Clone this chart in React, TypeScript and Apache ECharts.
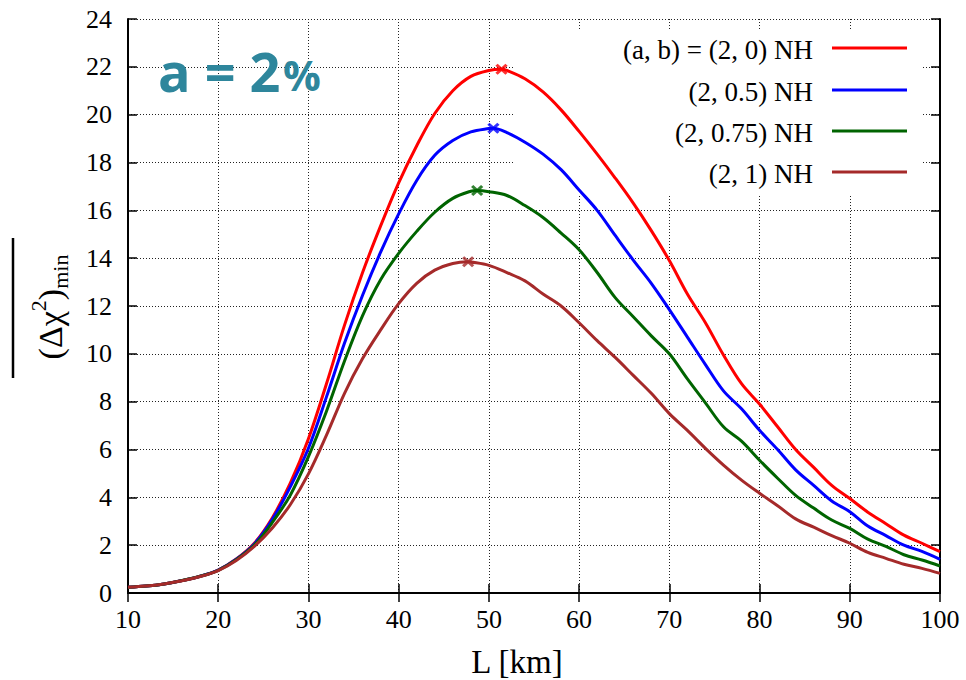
import React, { useEffect, useRef } from "react";
import * as echarts from "echarts";

// Baseline distance L [km]
const L_KM = [10, 12, 14, 16, 18, 20, 22, 24, 26, 28, 30, 32, 34, 36, 38, 40, 42, 44, 46, 48, 50, 52, 54, 56, 58, 60, 62, 64, 66, 68, 70, 72, 74, 76, 78, 80, 82, 84, 86, 88, 90, 92, 94, 96, 98, 100];

const RED_2_0 = [0.24, 0.29, 0.38, 0.52, 0.7, 0.96, 1.42, 2.08, 3.15, 4.6, 6.45, 8.75, 11.2, 13.4, 15.35, 17.15, 18.7, 20.05, 21.0, 21.6, 21.85, 21.85, 21.5, 20.95, 20.2, 19.3, 18.35, 17.35, 16.3, 15.15, 13.9, 12.5, 11.3, 9.95, 8.75, 7.9, 6.95, 6.0, 5.25, 4.5, 3.95, 3.38, 2.9, 2.42, 2.08, 1.73];
const BLUE_2_05 = [0.24, 0.29, 0.38, 0.52, 0.7, 0.96, 1.41, 2.05, 3.08, 4.45, 6.05, 8.2, 10.45, 12.45, 14.25, 15.85, 17.25, 18.3, 18.92, 19.28, 19.42, 19.25, 18.85, 18.35, 17.7, 16.85, 16.0, 14.95, 13.92, 12.95, 11.85, 10.7, 9.55, 8.45, 7.7, 6.8, 6.0, 5.15, 4.5, 3.85, 3.4, 2.8, 2.4, 2.0, 1.74, 1.41];
const GREEN_2_075 = [0.24, 0.29, 0.38, 0.52, 0.7, 0.95, 1.39, 2.0, 2.95, 4.1, 5.7, 7.6, 9.7, 11.6, 13.1, 14.2, 15.12, 15.92, 16.5, 16.8, 16.78, 16.62, 16.2, 15.7, 15.05, 14.35, 13.4, 12.35, 11.55, 10.75, 10.0, 8.95, 7.95, 6.95, 6.35, 5.55, 4.8, 4.08, 3.55, 3.05, 2.7, 2.25, 1.95, 1.6, 1.38, 1.13];
const BROWN_2_1 = [0.24, 0.29, 0.38, 0.51, 0.69, 0.94, 1.36, 1.95, 2.72, 3.7, 4.98, 6.6, 8.35, 9.8, 11.0, 12.1, 12.95, 13.5, 13.78, 13.84, 13.7, 13.4, 13.05, 12.5, 12.0, 11.3, 10.55, 9.85, 9.1, 8.35, 7.5, 6.8, 6.05, 5.35, 4.72, 4.17, 3.65, 3.1, 2.75, 2.4, 2.08, 1.7, 1.45, 1.2, 1.03, 0.82];

// Maxima marked with crosses: [L, value]
const PEAK_RED = [51.4, 21.9];
const PEAK_BLUE = [50.5, 19.43];
const PEAK_GREEN = [48.7, 16.83];
const PEAK_BROWN = [47.7, 13.85];

const LEGEND_LABELS = ["(a, b) = (2, 0) NH", "(2, 0.5) NH", "(2, 0.75) NH", "(2, 1) NH"];
const COLORS = ["#ff0000", "#0000ff", "#006400", "#a52a2a"];

const X_MIN = 10, X_MAX = 100, X_STEP = 10;
const Y_MIN = 0, Y_MAX = 24, Y_STEP = 2;

const SERIF = "'Liberation Serif', 'Times New Roman', serif";

function withPeak(values: number[], peak: number[]) {
  const pts = L_KM.map((x, i) => [x, values[i]]);
  pts.push([peak[0], peak[1]]);
  pts.sort((a, b) => a[0] - b[0]);
  return pts;
}

const CROSS = "path://M0,0L10,10M0,10L10,0";

export default function App() {
  const ref = useRef<HTMLDivElement>(null);
  useEffect(() => {
    const chart = echarts.init(ref.current as HTMLDivElement, null, { renderer: "svg" });
    const seriesVals = [RED_2_0, BLUE_2_05, GREEN_2_075, BROWN_2_1];
    const peaks = [PEAK_RED, PEAK_BLUE, PEAK_GREEN, PEAK_BROWN];

    const lineSeries: any[] = seriesVals.map((vals, i) => ({
      type: "line",
      name: LEGEND_LABELS[i],
      data: withPeak(vals, peaks[i]),
      smooth: 0.35,
      showSymbol: false,
      symbol: "none",
      lineStyle: { color: COLORS[i], width: 3 },
      z: 3,
    }));
    const markerSeries: any[] = peaks.map((p, i) => ({
      type: "scatter",
      data: [p],
      symbol: CROSS,
      symbolSize: [10, 9],
      itemStyle: { color: "rgba(0,0,0,0)", borderColor: COLORS[i], borderWidth: 3 },
      z: 5,
    }));

    const legendRows = [48, 90, 131, 172];
    const legendEls: any[] = [];
    LEGEND_LABELS.forEach((lab, i) => {
      legendEls.push({
        type: "text",
        x: 813,
        y: legendRows[i] + 2,
        z: 10,
        style: {
          text: lab,
          fill: "#000",
          font: `27px ${SERIF}`,
          align: "right",
          verticalAlign: "middle",
        },
      });
      legendEls.push({
        type: "line",
        z: 10,
        shape: { x1: 832, y1: legendRows[i], x2: 907, y2: legendRows[i] },
        style: { stroke: COLORS[i], lineWidth: 3 },
      });
    });

    const axisCommon = {
      axisLine: { show: true, lineStyle: { color: "#000", width: 2 } },
      axisTick: { show: true, inside: true, length: 9, lineStyle: { color: "#000", width: 1.5 } },
    };

    chart.setOption({
      animation: false,
      backgroundColor: "#fff",
      grid: { left: 128, right: 26, top: 19, bottom: 87, containLabel: false },
      xAxis: [
        {
          type: "value",
          min: X_MIN,
          max: X_MAX,
          interval: X_STEP,
          position: "bottom",
          ...axisCommon,
          axisLabel: { color: "#000", fontSize: 26, fontFamily: SERIF, margin: 13 },
          splitLine: { show: true, lineStyle: { color: "#222", width: 1, type: [1, 2] } },
        },
        {
          type: "value",
          min: X_MIN,
          max: X_MAX,
          interval: X_STEP,
          position: "top",
          ...axisCommon,
          axisLabel: { show: false },
          splitLine: { show: false },
        },
      ],
      yAxis: [
        {
          type: "value",
          min: Y_MIN,
          max: Y_MAX,
          interval: Y_STEP,
          position: "left",
          ...axisCommon,
          axisLabel: { color: "#000", fontSize: 26, fontFamily: SERIF, margin: 16 },
          splitLine: { show: true, lineStyle: { color: "#222", width: 1, type: [1, 2] } },
        },
        {
          type: "value",
          min: Y_MIN,
          max: Y_MAX,
          interval: Y_STEP,
          position: "right",
          ...axisCommon,
          axisLabel: { show: false },
          splitLine: { show: false },
        },
      ],
      series: [...lineSeries, ...markerSeries],
      graphic: [
        {
          type: "rect",
          z: 1,
          shape: { x: 515, y: 29, width: 407, height: 166 },
          style: { fill: "#fff" },
        },
        ...legendEls,
        {
          type: "text",
          x: 158,
          y: 71,
          z: 10,
          style: {
            text: "a = 2",
            fill: "#2e869c",
            font: "bold 54px 'Open Sans', 'DejaVu Sans', sans-serif",
            align: "left",
            verticalAlign: "middle",
          },
        },
        {
          type: "text",
          x: 283,
          y: 74,
          z: 10,
          style: {
            text: "%",
            fill: "#2e869c",
            font: "bold 42px 'Open Sans', 'DejaVu Sans', sans-serif",
            align: "left",
            verticalAlign: "middle",
          },
        },
        {
          type: "text",
          x: 517,
          y: 662,
          z: 10,
          style: {
            text: "L [km]",
            fill: "#000",
            font: `33px ${SERIF}`,
            align: "center",
            verticalAlign: "middle",
          },
        },
        {
          type: "text",
          x: 50,
          y: 307,
          rotation: Math.PI / 2,
          z: 10,
          style: {
            text: "{n|(Δχ}{sup|2}{n|)}{sub|min}",
            fill: "#000",
            font: `34px ${SERIF}`,
            align: "center",
            verticalAlign: "middle",
            rich: {
              n: { fontSize: 34, fontFamily: SERIF, fill: "#000" },
              sup: { fontSize: 22, fontFamily: SERIF, fill: "#000", padding: [0, 0, 24, 0] },
              sub: { fontSize: 22, fontFamily: SERIF, fill: "#000", padding: [20, 0, 0, 0] },
            },
          },
        },
        {
          type: "line",
          z: 10,
          shape: { x1: 13, y1: 238, x2: 13, y2: 378 },
          style: { stroke: "#000", lineWidth: 2.5 },
        },
      ],
    });
    return () => chart.dispose();
  }, []);
  return (
    <div
      ref={ref}
      style={{ position: "absolute", left: 0, top: 0, width: 966, height: 680, background: "#fff" }}
    />
  );
}
